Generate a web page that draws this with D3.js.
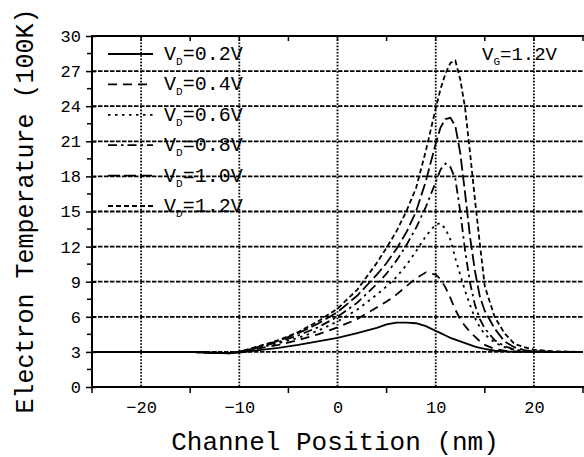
<!DOCTYPE html>
<html><head><meta charset="utf-8">
<script src="https://cdn.jsdelivr.net/npm/d3@7"></script>
<style>body{margin:0;background:#fff}svg{display:block}text{font-family:"Liberation Mono","Courier New",monospace;fill:#000}</style>
</head><body><svg id="c" width="584" height="457"></svg>
<script>
const xPos = [-25,-20,-15,-13,-11,-10,-8,-6,-4,-2,0,2,4,5,6,7,8,9,10,10.5,11,11.5,12,12.5,13,13.5,14,14.5,15,16,17,18,19,20,22,25];
const vd02 = [3,3,3,2.92,2.9,2.95,3.15,3.35,3.6,3.9,4.2,4.6,5.05,5.35,5.5,5.5,5.45,5.2,4.8,4.6,4.4,4.2,4.05,3.9,3.75,3.6,3.45,3.35,3.25,3.1,3.05,3.0,3.0,3.0,3.0,3.0];
const vd04 = [3,3,3,2.95,2.92,3.0,3.3,3.6,4.0,4.5,5.1,5.8,6.8,7.3,7.9,8.6,9.3,9.8,9.6,9.2,8.5,7.6,6.6,5.8,5.2,4.7,4.3,3.9,3.6,3.25,3.1,3.05,3.0,3.0,3.0,3.0];
const vd06 = [3,3,3,2.95,2.9,3.0,3.35,3.75,4.2,4.8,5.6,6.6,7.9,8.6,9.4,10.4,11.6,12.9,13.9,14.0,13.5,12.6,11.0,9.6,8.2,7.0,5.9,5.1,4.5,3.8,3.4,3.15,3.05,3.0,3.0,3.0];
const vd08 = [3,3,3,2.93,2.9,3.0,3.4,3.85,4.4,5.1,6.0,7.2,8.8,9.7,10.8,12.1,13.6,15.4,17.5,18.6,19.1,18.8,17.8,15.0,11.6,8.9,7.0,5.8,5.0,4.0,3.5,3.2,3.05,3.05,3.0,3.0];
const vd10 = [3,3,3,2.93,2.88,3.0,3.45,3.95,4.6,5.4,6.4,7.8,9.6,10.6,11.8,13.2,15.0,17.6,20.8,22.2,22.9,23.0,22.3,20.0,16.5,12.8,9.9,7.7,6.5,5.0,3.9,3.4,3.15,3.05,3.0,3.0];
const vd12 = [3,3,3,2.93,2.88,3.0,3.5,4.0,4.7,5.6,6.7,8.3,10.6,11.9,13.3,15.0,17.0,20.2,23.8,25.5,26.8,27.7,27.9,26.3,23.8,20.0,16.0,12.2,8.6,6.0,4.6,3.7,3.4,3.2,3.05,3.0];
const seriesNames = ["0.2V","0.4V","0.6V","0.8V","1.0V","1.2V"];
const seriesValues = [vd02, vd04, vd06, vd08, vd10, vd12];
const seriesDash = ["none","9,6","2.5,4.5","9,4,2.5,4","12,4","5,3"];
const xMajor = [-20,-10,0,10,20];
const xMinor = [-25,-15,-5,5,15,25];
const yMajor = [0,3,6,9,12,15,18,21,24,27,30];
const yMinor = [1.5,4.5,7.5,10.5,13.5,16.5,19.5,22.5,25.5,28.5];
const yGrid = [3,6,9,12,15,18,21,24,27];
const xTitle = "Channel Position (nm)";
const yTitle = "Electron Temperature (100K)";

const svg = d3.select("#c");
const L=92, R=583, T=36, B=387;
const x = d3.scaleLinear().domain([-25,25]).range([L,R]);
const y = d3.scaleLinear().domain([0,30]).range([B,T]);

// grid
const g = svg.append("g");
g.selectAll(".hg").data(yGrid).join("line")
  .attr("x1",L).attr("x2",584).attr("y1",d=>y(d)).attr("y2",d=>y(d))
  .attr("stroke","#000").attr("stroke-width",1.8).attr("stroke-dasharray","4.5,1.5");
g.selectAll(".vg").data(xMajor).join("line")
  .attr("x1",d=>x(d)).attr("x2",d=>x(d)).attr("y1",T).attr("y2",B)
  .attr("stroke","#000").attr("stroke-width",1.8).attr("stroke-dasharray","1.6,1.6");

// axes
const xAxis = d3.axisBottom(x).tickValues(xMajor).tickSize(0).tickPadding(0).tickFormat(d3.format("d"));
const ax = svg.append("g").attr("transform",`translate(0,${B})`).call(xAxis);
ax.select(".domain").remove();
ax.selectAll("text").attr("y",26).attr("dy",0).style("font-size","17px").style("font-family","Liberation Mono");
svg.append("g").selectAll("line").data(xMinor).join("line")
  .attr("x1",d=>x(d)).attr("x2",d=>x(d)).attr("y1",B).attr("y2",B+6).attr("stroke","#000").attr("stroke-width",1.5);
svg.append("g").selectAll("line").data(xMajor.concat(xMinor)).join("line")
  .attr("x1",d=>x(d)).attr("x2",d=>x(d)).attr("y1",T).attr("y2",T+5).attr("stroke","#000").attr("stroke-width",1.5);

const yAxis = d3.axisLeft(y).tickValues(yMajor).tickSize(6).tickPadding(5).tickFormat(d3.format("d"));
const ay = svg.append("g").attr("transform",`translate(${L},0)`).call(yAxis);
ay.select(".domain").remove();
ay.selectAll(".tick line").attr("x2",4).attr("x1",-6).attr("stroke-width",1.5);
ay.selectAll("text").style("font-size","17px").style("font-family","Liberation Mono").attr("x",-11);
svg.append("g").selectAll("line").data(yMinor).join("line")
  .attr("x1",L-5).attr("x2",L).attr("y1",d=>y(d)).attr("y2",d=>y(d)).attr("stroke","#000").attr("stroke-width",1.5);

svg.append("line").attr("x1",L).attr("x2",L).attr("y1",T).attr("y2",B+1).attr("stroke","#000").attr("stroke-width",2);
svg.append("line").attr("x1",L-1).attr("x2",584).attr("y1",B).attr("y2",B).attr("stroke","#000").attr("stroke-width",2);
svg.append("line").attr("x1",L-1).attr("x2",584).attr("y1",T).attr("y2",T).attr("stroke","#000").attr("stroke-width",2);

// titles
svg.append("text").attr("x",335).attr("y",450).attr("text-anchor","middle").style("font-size","26px").text(xTitle);
svg.append("text").attr("transform","translate(33,211) rotate(-90)").attr("text-anchor","middle").style("font-size","25px").text(yTitle);

// data
const line = d3.line().x((d,i)=>x(xPos[i])).y(d=>y(d));
svg.append("g").selectAll("path").data(seriesValues).join("path")
  .attr("d",d=>line(d)).attr("fill","none").attr("stroke","#000").attr("stroke-width",1.8)
  .attr("stroke-dasharray",(d,i)=>seriesDash[i]);

// legend
const lg = svg.append("g");
seriesNames.forEach((n,i)=>{
  const cy = 54 + i*30.4;
  lg.append("line").attr("x1",108).attr("x2",153).attr("y1",cy).attr("y2",cy)
    .attr("stroke","#000").attr("stroke-width",1.8).attr("stroke-dasharray",seriesDash[i]);
  const t = lg.append("text").attr("x",164).attr("y",cy+6).style("font-size","20px");
  t.append("tspan").text("V");
  t.append("tspan").attr("dy",5).style("font-size","11px").text("D");
  t.append("tspan").attr("dy",-5).text("="+n);
});
const tg = svg.append("text").attr("x",482).attr("y",60).style("font-size","19px");
tg.append("tspan").text("V");
tg.append("tspan").attr("dy",5).style("font-size","11px").text("G");
tg.append("tspan").attr("dy",-5).text("=1.2V");
</script></body></html>
